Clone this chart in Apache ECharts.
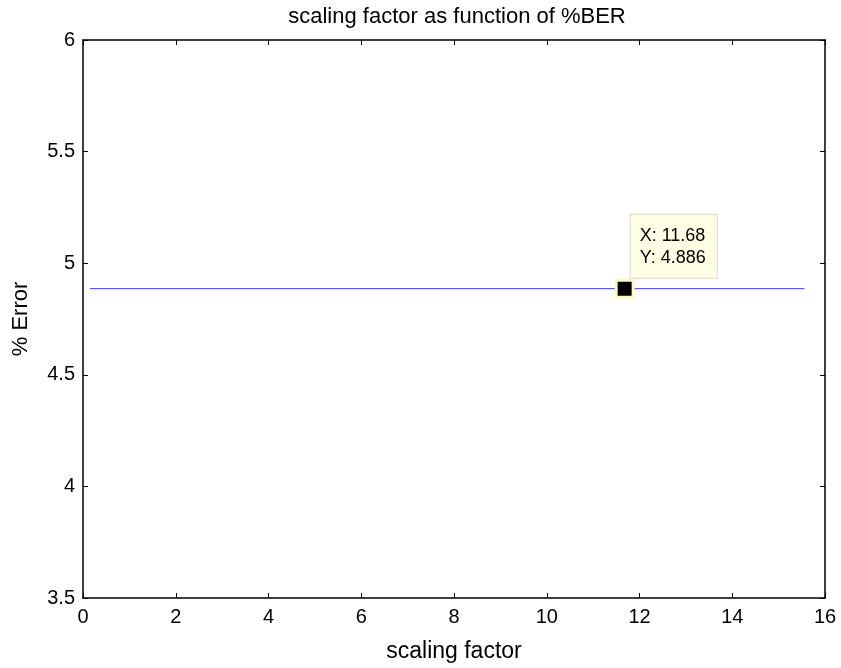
<!DOCTYPE html>
<html>
<head>
<meta charset="utf-8">
<script src="https://cdn.jsdelivr.net/npm/echarts@6/dist/echarts.min.js"></script>
<style>html,body{margin:0;padding:0;background:#fff;}#c{width:841px;height:668px;}</style>
</head>
<body>
<div id="c"></div>
<script>
var titleText = 'scaling factor as function of %BER';
var xName = 'scaling factor';
var yName = '% Error';
var lineX = [0.15, 11.68, 15.56];
var lineY = [4.886, 4.886, 4.886];
var tipX = [11.68];
var tipY = [4.886];

var chart = echarts.init(document.getElementById('c'), null, {renderer: 'canvas'});
var font = 'Liberation Sans, Arial, sans-serif';
var lineData = lineX.map(function (x, i) { return [x, lineY[i]]; });
var tipData = tipX.map(function (x, i) { return [x, tipY[i]]; });

var tick = {show: true, inside: true, length: 5, lineStyle: {color: '#000', width: 1}};
var axLine = {show: true, onZero: false, lineStyle: {color: '#000', width: 1.5}};

chart.setOption({
  animation: false,
  backgroundColor: '#fff',
  title: {
    text: titleText, left: 452, top: 1, textAlign: 'center',
    textStyle: {fontFamily: font, fontSize: 22, fontWeight: 'normal', color: '#000'}
  },
  grid: {left: 83, right: 16, top: 40, bottom: 63, containLabel: false},
  xAxis: [{
    type: 'value', min: 0, max: 16, interval: 2, position: 'bottom',
    name: xName, nameLocation: 'middle', nameGap: 42,
    nameTextStyle: {fontFamily: font, fontSize: 23, color: '#000'},
    axisLine: axLine, axisTick: tick, splitLine: {show: false},
    axisLabel: {fontFamily: font, fontSize: 20, color: '#000', margin: 9}
  }, {
    type: 'value', min: 0, max: 16, interval: 2, position: 'top',
    axisLine: axLine, axisTick: tick, splitLine: {show: false},
    axisLabel: {show: false}
  }],
  yAxis: [{
    type: 'value', min: 3.5, max: 6, interval: 0.5, position: 'left',
    name: yName, nameLocation: 'middle', nameGap: 51, nameRotate: 90,
    nameTextStyle: {fontFamily: font, fontSize: 22, color: '#000'},
    axisLine: axLine, axisTick: tick, splitLine: {show: false},
    axisLabel: {fontFamily: font, fontSize: 20, color: '#000', margin: 8}
  }, {
    type: 'value', min: 3.5, max: 6, interval: 0.5, position: 'right',
    axisLine: axLine, axisTick: tick, splitLine: {show: false},
    axisLabel: {show: false}
  }],
  series: [{
    type: 'line', data: lineData, showSymbol: false, symbol: 'none',
    lineStyle: {color: '#3d3dff', width: 1}, silent: true
  }, {
    type: 'scatter', data: tipData, symbol: 'rect', symbolSize: 17,
    itemStyle: {color: '#000', borderColor: '#fbf7c6', borderWidth: 3, opacity: 1},
    label: {
      show: true, position: [16, -64],
      formatter: function (p) { return 'X: ' + p.value[0].toFixed(2) + '\nY: ' + p.value[1].toFixed(3); },
      fontFamily: font, fontSize: 18, color: '#000', lineHeight: 22,
      backgroundColor: '#ffffe6', borderColor: '#d8d8d0', borderWidth: 1,
      padding: [10, 11, 9, 9]
    },
    emphasis: {disabled: true},
    z: 5
  }]
});
</script>
</body>
</html>
